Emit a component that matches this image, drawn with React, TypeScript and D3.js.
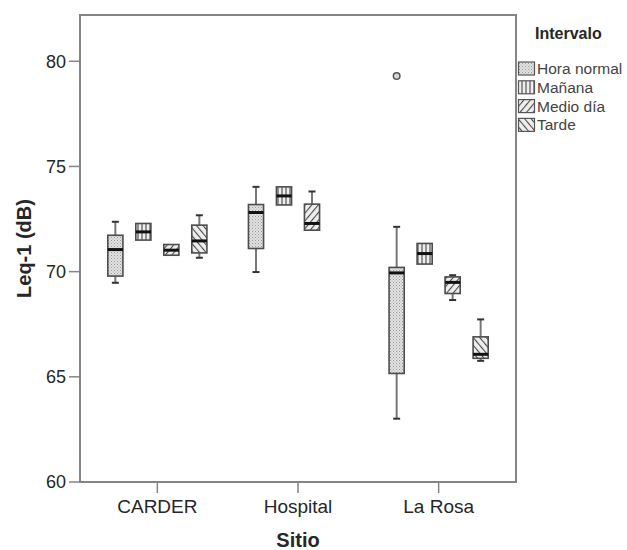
import React from "react";
import * as d3 from "d3";

// sites on the x axis and the four time intervals (legend)
const sites = ["CARDER", "Hospital", "La Rosa"];
const intervals = ["Hora normal", "Mañana", "Medio día", "Tarde"];

// [lower whisker, Q1, median, Q3, upper whisker] per site, null = no data
const horaNormal = [
  [69.47, 69.79, 71.05, 71.73, 72.37],
  [69.98, 71.1, 72.81, 73.19, 74.03],
  [63.01, 65.16, 69.94, 70.2, 72.13],
];
const manana = [
  [71.5, 71.5, 71.89, 72.29, 72.29],
  [73.17, 73.17, 73.6, 74.03, 74.03],
  [70.36, 70.36, 70.86, 71.34, 71.34],
];
const medioDia = [
  [70.78, 70.78, 71.02, 71.29, 71.29],
  [71.97, 71.97, 72.29, 73.21, 73.81],
  [68.65, 68.96, 69.49, 69.75, 69.83],
];
const tarde = [
  [70.66, 70.89, 71.46, 72.21, 72.68],
  null,
  [65.76, 65.88, 66.07, 66.9, 67.73],
];
const outliers = [{ site: "La Rosa", interval: "Hora normal", value: 79.3 }];

const yTicks = [60, 65, 70, 75, 80];

const W = 627;
const H = 550;
const plot = { left: 80, right: 516, top: 15, bottom: 482 };
const FONT = "Arial, 'Liberation Sans', sans-serif";
const patternIds = ["pHora", "pManana", "pMedio", "pTarde"];

export default function App() {
  const series = [horaNormal, manana, medioDia, tarde];

  const x = d3.scalePoint<string>().domain(sites).range([plot.left, plot.right]).padding(0.55);
  const xi = d3
    .scaleBand<string>()
    .domain(intervals)
    .range([-56, 56])
    .paddingInner(0.46)
    .paddingOuter(0.23);
  const y = d3.scaleLinear().domain([60, 82.2]).range([plot.bottom, plot.top]);
  const bw = xi.bandwidth();
  const capW = 7;

  const boxes: any[] = [];
  series.forEach((s, k) => {
    s.forEach((v, i) => {
      if (!v) return;
      boxes.push({ site: sites[i], interval: intervals[k], k, v });
    });
  });

  const axisColor = "#858585";
  const textColor = "#262626";

  return (
    <div style={{ position: "absolute", left: 0, top: 0 }}>
      <svg width={W} height={H} style={{ display: "block", background: "#fff" }}>
        <defs>
          <pattern id="pHora" width={3} height={3} patternUnits="userSpaceOnUse">
            <rect width={3} height={3} fill="#e2e2e2" />
            <rect x={0} y={0} width={1} height={1} fill="#999" />
            <rect x={1.5} y={1.5} width={1} height={1} fill="#adadad" />
          </pattern>
          <pattern id="pManana" width={4} height={4} patternUnits="userSpaceOnUse">
            <rect width={4} height={4} fill="#eeeeee" />
            <line x1={2} y1={0} x2={2} y2={4} stroke="#555" strokeWidth={1.2} />
          </pattern>
          <pattern
            id="pMedio"
            width={5}
            height={5}
            patternUnits="userSpaceOnUse"
            patternTransform="rotate(40)"
          >
            <rect width={5} height={5} fill="#eeeeee" />
            <line x1={0} y1={0} x2={0} y2={5} stroke="#4a4a4a" strokeWidth={2.2} />
          </pattern>
          <pattern
            id="pTarde"
            width={5}
            height={5}
            patternUnits="userSpaceOnUse"
            patternTransform="rotate(-40)"
          >
            <rect width={5} height={5} fill="#eeeeee" />
            <line x1={0} y1={0} x2={0} y2={5} stroke="#4a4a4a" strokeWidth={2.2} />
          </pattern>
        </defs>

        {/* plot frame */}
        <rect
          x={plot.left}
          y={plot.top}
          width={plot.right - plot.left}
          height={plot.bottom - plot.top}
          fill="none"
          stroke={axisColor}
          strokeWidth={2}
        />

        {/* y axis ticks */}
        {yTicks.map((t) => (
          <g key={t}>
            <line x1={plot.left - 11} x2={plot.left} y1={y(t)} y2={y(t)} stroke={axisColor} strokeWidth={1.5} />
            <text
              x={plot.left - 14}
              y={y(t)}
              dy="0.36em"
              textAnchor="end"
              fontFamily={FONT}
              fontSize={18}
              fill={textColor}
            >
              {t}
            </text>
          </g>
        ))}
        <text
          transform={`translate(31,${(plot.top + plot.bottom) / 2}) rotate(-90)`}
          textAnchor="middle"
          fontFamily={FONT}
          fontSize={20}
          fontWeight="bold"
          fill={textColor}
        >
          Leq-1 (dB)
        </text>

        {/* x axis ticks */}
        {sites.map((s) => (
          <g key={s}>
            <line x1={x(s)} x2={x(s)} y1={plot.bottom} y2={plot.bottom + 11} stroke={axisColor} strokeWidth={1.5} />
            <text
              x={x(s)}
              y={plot.bottom + 31}
              textAnchor="middle"
              fontFamily={FONT}
              fontSize={19}
              fill={textColor}
            >
              {s}
            </text>
          </g>
        ))}
        <text
          x={x("Hospital")}
          y={547}
          textAnchor="middle"
          fontFamily={FONT}
          fontSize={20}
          fontWeight="bold"
          fill={textColor}
        >
          Sitio
        </text>

        {/* boxes */}
        {boxes.map((b) => {
          const cx = (x(b.site) as number) + (xi(b.interval) as number) + bw / 2;
          const [lo, q1, med, q3, hi] = b.v;
          return (
            <g key={b.site + b.interval}>
              {hi > q3 && (
                <>
                  <line x1={cx} x2={cx} y1={y(hi)} y2={y(q3)} stroke="#777" strokeWidth={2} />
                  <line x1={cx - capW / 2} x2={cx + capW / 2} y1={y(hi)} y2={y(hi)} stroke="#333" strokeWidth={2} />
                </>
              )}
              {lo < q1 && (
                <>
                  <line x1={cx} x2={cx} y1={y(q1)} y2={y(lo)} stroke="#777" strokeWidth={2} />
                  <line x1={cx - capW / 2} x2={cx + capW / 2} y1={y(lo)} y2={y(lo)} stroke="#333" strokeWidth={2} />
                </>
              )}
              <rect
                x={cx - bw / 2}
                y={y(q3)}
                width={bw}
                height={y(q1) - y(q3)}
                fill={`url(#${patternIds[b.k]})`}
                stroke="#4d4d4d"
                strokeWidth={1.6}
              />
              <line x1={cx - bw / 2} x2={cx + bw / 2} y1={y(med)} y2={y(med)} stroke="#111" strokeWidth={3} />
            </g>
          );
        })}

        {/* outliers */}
        {outliers.map((o) => {
          const cx = (x(o.site) as number) + (xi(o.interval) as number) + bw / 2;
          return (
            <circle key={o.site + o.interval} cx={cx} cy={y(o.value)} r={3.3} fill="#d8d8d8" stroke="#555" strokeWidth={1.5} />
          );
        })}

        {/* legend */}
        <text x={535} y={39} fontFamily={FONT} fontSize={16} fontWeight="bold" fill={textColor}>
          Intervalo
        </text>
        {intervals.map((name, k) => {
          const ly = 62 + k * 18.8;
          return (
            <g key={name}>
              <rect x={518.5} y={ly} width={16} height={13} fill={`url(#${patternIds[k]})`} stroke="#555" strokeWidth={1.2} />
              <text x={537} y={ly + 6.5} dy="0.36em" fontFamily={FONT} fontSize={15.5} fill="#444">
                {name}
              </text>
            </g>
          );
        })}
      </svg>
    </div>
  );
}
